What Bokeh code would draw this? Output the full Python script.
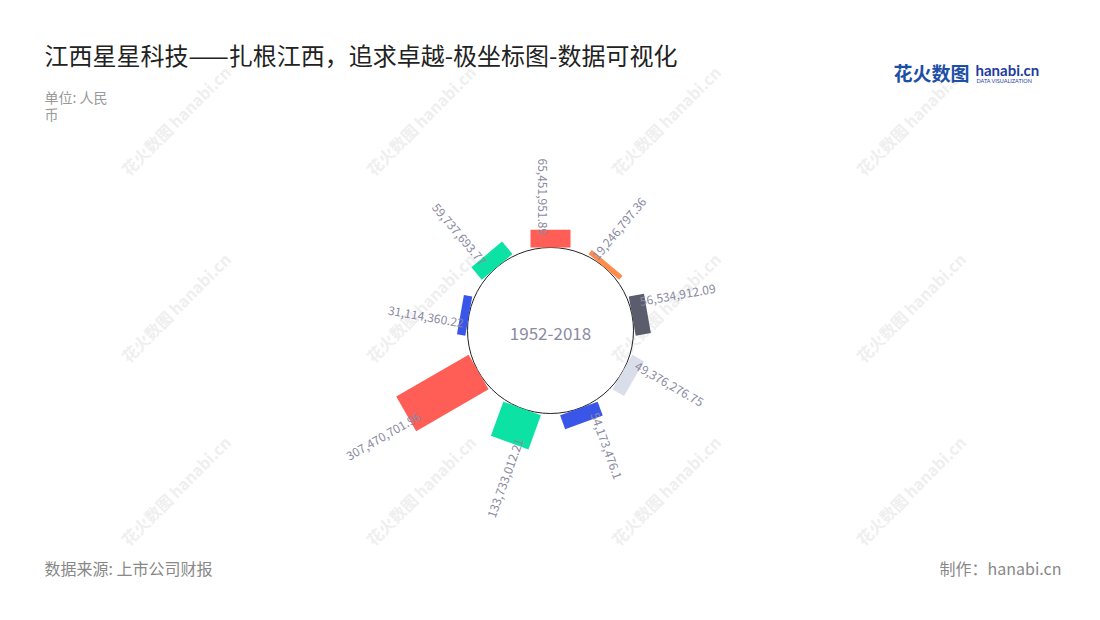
import numpy as np
from bokeh.plotting import figure
from bokeh.models import Range1d, Label, ColumnDataSource
from bokeh.embed import file_html
from bokeh.resources import INLINE
from bokeh.core.properties import value

# ---------------- data ----------------
values = [65451951.89, 19246797.36, 56534912.09, 49376276.75, 54173476.10,
          133733012.21, 307470701.96, 31114360.22, 59737693.77]
colors = ["#ff5e57", "#ff8c4b", "#5b5c6c", "#d9deea", "#3a56e8",
          "#0ce2a3", "#ff5e57", "#3a56e8", "#0ce2a3"]
center_label = "1952-2018"
title = "江西星星科技——扎根江西，追求卓越-极坐标图-数据可视化"
unit_lines = ["单位: 人民", "币"]
source_text = "数据来源: 上市公司财报"
credit_text = "制作：hanabi.cn"

FONT = "Noto Sans CJK SC"
W, H = 1084, 604
PH = 620  # page height, used to flip y

p = figure(width=W, height=H, x_range=Range1d(0, W), y_range=Range1d(PH - H, PH),
           output_backend="svg", toolbar_location=None, min_border=0)
p.axis.visible = False
p.grid.visible = False
p.outline_line_color = None
p.background_fill_color = "white"
p.border_fill_color = "white"

# ---------------- watermarks ----------------
wx, wy = [], []
for cx0 in [132, 377, 622, 867]:
    for cy0 in [180, 367, 550]:
        wx.append(cx0)
        wy.append(PH - cy0)
p.text(x=wx, y=wy, text=["花火数图  hanabi.cn"] * len(wx), angle=np.pi / 4,
       text_font=value(FONT), text_font_size="16px", text_font_style="bold",
       text_color="#efefef", text_align="left", text_baseline="bottom")

# ---------------- polar bars ----------------
CX, CY = 550, PH - 330
R0 = 83.0
K = 0.272e-6
BAR_W = 40

n = len(values)
cw = np.arange(n) * 360.0 / n
a = np.radians(90 - cw)
L = np.array(values) * K
rm = R0 + L / 2

p.circle(x=[CX], y=[CY], radius=R0, fill_color=None, line_color="#222222", line_width=1)

bars = ColumnDataSource(dict(x=CX + rm * np.cos(a), y=CY + rm * np.sin(a),
                             w=L, h=[BAR_W] * n, ang=a, color=colors))
p.rect(x="x", y="y", width="w", height="h", angle="ang", fill_color="color",
       line_color=None, source=bars)

labels = [f"{v:,.2f}".rstrip("0").rstrip(".") for v in values]
right = (cw > 0) & (cw < 180)
ra = R0 + 0.92 * L - 4
off = np.where(right, 13, 8)
lx = CX + ra * np.cos(a) - off * np.sin(a)
ly = CY + ra * np.sin(a) + off * np.cos(a)
lang = np.where(right, a, a + np.pi)
align = ["left" if r else "right" for r in right]
lab = ColumnDataSource(dict(x=lx, y=ly, text=labels, ang=lang, align=align))
p.text(x="x", y="y", text="text", angle="ang", text_align="align", source=lab,
       text_font=value(FONT), text_font_size="12px", text_color="#8a8aa2",
       text_baseline="middle")

p.text(x=[CX], y=[CY - 3], text=[center_label], text_font=value(FONT),
       text_font_size="17px", text_color="#8b8ba3", text_align="center",
       text_baseline="middle")

# ---------------- titles / notes ----------------
p.add_layout(Label(x=44, y=PH - 54, text=title, text_font=FONT, text_font_size="24px",
                   text_color="#222222", text_baseline="middle"))
for i, t in enumerate(unit_lines):
    p.add_layout(Label(x=44, y=PH - 96 - 17 * i, text=t, text_font=FONT,
                       text_font_size="14px", text_color="#999999", text_baseline="middle"))
p.add_layout(Label(x=44, y=PH - 567, text=source_text, text_font=FONT, text_font_size="16px",
                   text_color="#888888", text_baseline="middle"))
p.add_layout(Label(x=1061, y=PH - 567, text=credit_text, text_font=FONT, text_font_size="16px",
                   text_color="#888888", text_baseline="middle", text_align="right"))

# logo
p.add_layout(Label(x=893, y=PH - 72, text="花火数图", text_font=FONT, text_font_size="19px",
                   text_font_style="bold", text_color="#1d4fa6", text_baseline="middle"))
p.add_layout(Label(x=975, y=PH - 69, text="hanabi.cn", text_font="Lato", text_font_size="15px",
                   text_font_style="bold", text_color="#1e3d9c", text_baseline="middle"))
p.add_layout(Label(x=976, y=PH - 80, text="DATA VISUALIZATION", text_font="Lato",
                   text_font_size="5.5px", text_color="#1e3d9c", text_baseline="middle"))

open("out.html", "w").write(file_html(p, INLINE))
